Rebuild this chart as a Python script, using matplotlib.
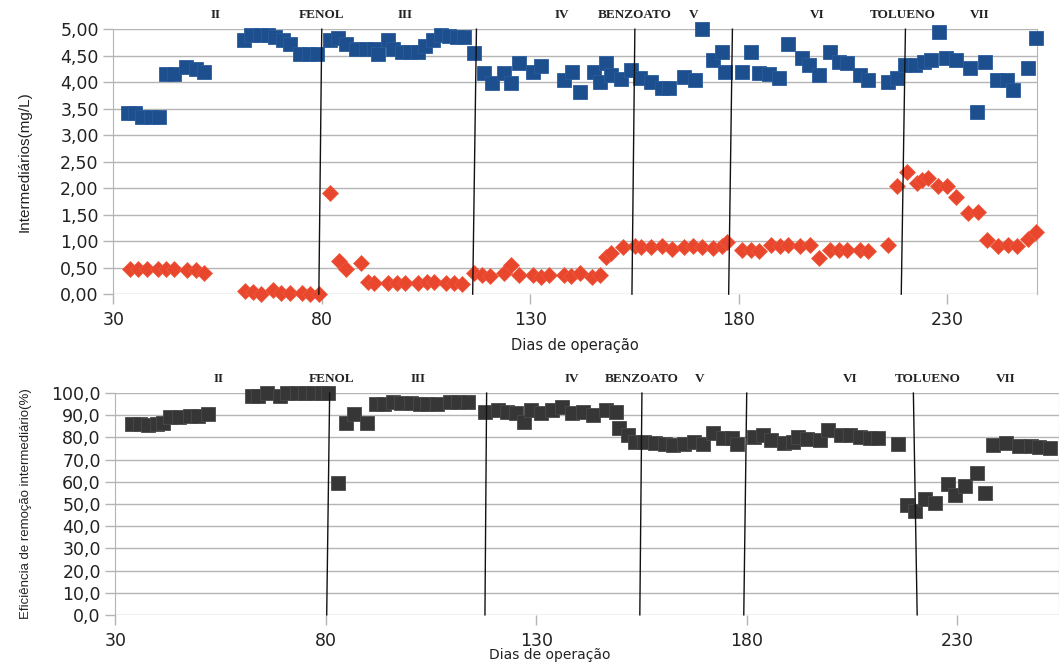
import matplotlib
matplotlib.use("Agg")
import matplotlib.pyplot as plt
from matplotlib.ticker import FuncFormatter

# Top chart: intermediates (mg/L)
blue_days = [33.5, 35.2, 37.0, 39.0, 41.0, 42.7, 44.6, 47.4, 49.8, 51.7,
             61.4, 63.0, 65.2, 67.0, 68.7, 70.6, 72.5, 74.8, 77.0, 78.8,
             81.9, 84.0, 85.9, 88.3, 90.6, 92.5, 93.4, 95.8, 97.2, 99.3,
             101.2, 103.0, 104.8, 106.7, 108.7, 110.6, 112.5, 114.0,
             116.6, 118.9, 120.8, 123.6, 125.5, 127.3, 130.7, 132.6, 138.0, 140.0,
             141.9, 145.3, 146.8, 148.1, 149.3, 151.7, 154.1, 156.3, 158.9, 161.5,
             163.4, 167.0, 169.5, 171.2, 173.9, 176.0, 176.8, 180.9, 182.9, 184.8,
             187.3, 189.7, 191.9, 195.1, 196.8, 199.3, 202.0, 204.1, 206.1, 209.0,
             211.0, 215.9, 217.9, 220.0, 222.4, 224.4, 226.1, 228.0, 229.8, 232.2,
             235.4, 237.1, 239.0, 242.0, 244.4, 245.9, 249.3, 251.2]
blue_vals = [3.42, 3.41, 3.34, 3.34, 3.34, 4.15, 4.15, 4.29, 4.25, 4.20,
             4.79, 4.89, 4.89, 4.89, 4.86, 4.79, 4.72, 4.53, 4.53, 4.53,
             4.79, 4.83, 4.72, 4.63, 4.63, 4.62, 4.53, 4.79, 4.63, 4.57,
             4.57, 4.57, 4.69, 4.79, 4.90, 4.88, 4.86, 4.86,
             4.55, 4.17, 3.98, 4.17, 3.98, 4.36, 4.19, 4.30, 4.04, 4.19,
             3.81, 4.19, 4.00, 4.36, 4.13, 4.06, 4.23, 4.08, 4.00, 3.89,
             3.89, 4.09, 4.04, 5.00, 4.42, 4.57, 4.19, 4.19, 4.57, 4.17,
             4.15, 4.08, 4.73, 4.45, 4.32, 4.13, 4.57, 4.38, 4.36, 4.13,
             4.04, 4.00, 4.08, 4.32, 4.32, 4.38, 4.42, 4.94, 4.45, 4.42,
             4.26, 3.44, 4.38, 4.04, 4.04, 3.85, 4.26, 4.83]

red_days = [34.0, 35.9, 38.0, 40.6, 42.7, 44.6, 47.7, 49.8, 51.7,
            61.6, 63.5, 65.4, 68.2, 70.2, 72.5, 75.3, 77.2, 79.3,
            81.9, 84.2, 85.9, 89.4, 91.1, 92.5, 96.0, 98.1, 100.0, 103.0,
            105.2, 107.0, 109.8, 111.7, 113.6,
            116.6, 118.5, 120.4, 123.6, 125.5, 127.4, 130.7, 132.6, 134.5, 138.0,
            139.9, 141.9, 144.9, 146.8, 148.1, 149.3, 152.2, 155.1, 156.6, 159.0,
            161.7, 163.9, 167.0, 169.0, 171.2, 173.9, 176.1, 177.3, 180.9, 182.9,
            184.9, 187.8, 189.8, 191.9, 194.6, 197.0, 199.3, 201.8, 204.1, 206.1,
            209.0, 211.0, 215.9, 217.9, 220.4, 222.8, 224.0, 225.3, 227.7, 230.0,
            232.2, 235.0, 237.3, 239.5, 242.2, 244.6, 246.8, 249.3, 251.2]
red_vals = [0.47, 0.47, 0.47, 0.47, 0.47, 0.47, 0.46, 0.46, 0.40,
            0.06, 0.05, 0.00, 0.08, 0.02, 0.02, 0.02, 0.00, 0.00,
            1.91, 0.63, 0.48, 0.59, 0.23, 0.21, 0.21, 0.21, 0.21, 0.21,
            0.22, 0.23, 0.21, 0.21, 0.20,
            0.40, 0.36, 0.34, 0.40, 0.55, 0.36, 0.36, 0.33, 0.36, 0.36,
            0.34, 0.40, 0.33, 0.36, 0.70, 0.77, 0.89, 0.91, 0.89, 0.89,
            0.90, 0.86, 0.89, 0.90, 0.89, 0.88, 0.90, 0.98, 0.83, 0.83,
            0.82, 0.92, 0.90, 0.92, 0.90, 0.92, 0.68, 0.83, 0.83, 0.83,
            0.83, 0.82, 0.92, 2.04, 2.30, 2.09, 2.15, 2.19, 2.04, 2.04,
            1.83, 1.53, 1.55, 1.02, 0.91, 0.92, 0.90, 1.04, 1.17]

# Bottom chart: removal efficiency (%)
eff_days = [34.0, 35.9, 37.8, 39.9, 41.4, 43.0, 45.0, 47.8, 49.7, 52.0,
            62.5, 63.9, 66.0, 69.1, 70.8, 73.1, 75.0, 76.9, 79.0, 80.4,
            82.8, 84.9, 86.7, 89.7, 91.9, 93.7, 96.0, 97.9, 100.2, 102.3,
            104.1, 106.4, 109.4, 111.5, 113.8,
            117.8, 120.8, 123.1, 125.2, 127.0, 128.8, 131.2, 133.7, 136.2, 138.6,
            141.1, 143.5, 146.5, 148.9, 149.6, 151.9, 153.5, 155.6, 158.1, 160.5,
            162.5, 165.0, 167.5, 169.5, 171.9, 174.4, 176.6, 177.8, 181.7, 183.8,
            185.7, 188.8, 190.9, 192.3, 194.4, 197.5, 199.4, 202.3, 204.6, 207.0,
            209.4, 211.2, 216.0, 218.1, 220.0, 222.4, 224.8, 227.9, 229.5, 231.8,
            234.6, 236.5, 238.4, 241.7, 244.8, 247.6, 249.5, 252.0]
eff_vals = [86.0, 86.0, 85.6, 86.0, 86.3, 89.2, 89.2, 89.5, 89.5, 90.5,
            98.6, 98.6, 100.0, 98.6, 100.0, 100.0, 100.0, 100.0, 100.0, 100.0,
            59.5, 86.5, 90.5, 86.5, 95.0, 95.0, 96.0, 95.5, 95.5, 95.3,
            95.0, 95.3, 96.0, 96.0, 96.0,
            91.4, 92.3, 91.4, 91.0, 86.9, 92.3, 91.0, 92.3, 93.7, 91.0,
            91.4, 90.0, 92.3, 91.4, 84.2, 81.1, 78.0, 77.9, 77.5, 77.1,
            76.6, 77.1, 77.9, 77.1, 82.0, 79.7, 79.9, 77.0, 80.2, 81.1,
            78.8, 77.5, 77.9, 80.0, 79.4, 78.8, 83.3, 81.0, 81.0, 80.4,
            79.6, 79.6, 77.0, 49.5, 46.8, 52.2, 50.5, 59.0, 54.0, 58.0,
            64.0, 55.0, 76.6, 77.5, 76.1, 76.0, 75.5, 75.3]

# Phase boundaries (day at top of plot, day at bottom of plot)
top_bounds = [(80.0, 79.3), (117.1, 116.2), (155.1, 154.4), (178.5, 177.6), (220.0, 219.0)]
bot_bounds = [(80.9, 80.2), (118.2, 117.8), (155.1, 154.6), (180.0, 179.3), (219.6, 220.5)]

phase_names = ["II", "FENOL", "III", "IV", "BENZOATO", "V", "VI", "TOLUENO", "VII"]
top_name_days = [54.5, 80.0, 100.0, 137.6, 155.0, 169.3, 198.8, 219.3, 237.8]
bot_name_days = [54.4, 81.4, 101.9, 138.4, 155.1, 168.9, 204.6, 223.1, 241.6]

xticks = [30, 80, 130, 180, 230]

fig = plt.figure(figsize=(10.59, 6.64), dpi=100)
ax1 = fig.add_axes([0.107, 0.557, 0.872, 0.399])
ax2 = fig.add_axes([0.109, 0.074, 0.891, 0.334])

grid_col = "#b5b5b5"


def style_axis(ax, ylim, yticks, fmt, xlim):
    ax.set_xlim(*xlim)
    ax.set_ylim(*ylim)
    ax.set_xticks(xticks)
    ax.set_yticks(yticks)
    ax.yaxis.set_major_formatter(FuncFormatter(fmt))
    ax.grid(axis="y", color=grid_col, linewidth=1.0)
    ax.set_axisbelow(True)
    for s in ["top", "bottom"]:
        ax.spines[s].set_visible(False)
    ax.spines["left"].set_color(grid_col)
    ax.spines["right"].set_color(grid_col)
    ax.tick_params(axis="both", colors=grid_col, labelcolor="#222222",
                   labelsize=12.5, length=7, width=1)
    ax.tick_params(axis="x", pad=5)


style_axis(ax1, (0, 5.0), [i * 0.5 for i in range(11)],
           lambda v, p: f"{v:.2f}".replace(".", ","), (30, 251.5))
style_axis(ax2, (0, 100), list(range(0, 101, 10)),
           lambda v, p: f"{v:.1f}".replace(".", ","), (30, 254.2))

ax1.plot(blue_days, blue_vals, linestyle="none", marker="s", markersize=10.5,
         color="#1d4f8f", markeredgecolor="#2a5c9c", markeredgewidth=0.6,
         zorder=3, clip_on=False)
ax1.plot(red_days, red_vals, linestyle="none", marker="D", markersize=7.8,
         color="#e8472d", markeredgecolor="#ef5a3f", markeredgewidth=0.5,
         zorder=3, clip_on=False)
ax2.plot(eff_days, eff_vals, linestyle="none", marker="s", markersize=10.5,
         color="#363636", markeredgecolor="#4a4a4a", markeredgewidth=0.6,
         zorder=3, clip_on=False)

for ax, bounds, (y0, y1) in [(ax1, top_bounds, (0, 5.0)), (ax2, bot_bounds, (0, 100))]:
    for xt, xb in bounds:
        ax.plot([xt, xb], [y1, y0], color="#111111", linewidth=1.0, zorder=4,
                clip_on=False)

for ax, days, ylab in [(ax1, top_name_days, 1.053), (ax2, bot_name_days, 1.063)]:
    for name, d in zip(phase_names, days):
        ax.text(d, ylab, name, transform=ax.get_xaxis_transform(), ha="center",
                va="center", fontsize=9.5, fontweight="bold",
                family=["Liberation Serif", "DejaVu Serif"], color="#222222")

label_font = ["Liberation Sans Narrow", "Liberation Sans", "DejaVu Sans"]
ax1.set_ylabel("Intermediários(mg/L)", fontsize=11, family=label_font, color="#222222")
ax1.yaxis.set_label_coords(-0.088, 0.5)
ax2.set_ylabel("Eficiência de remoção intermediário(%)", fontsize=9.5, family=label_font,
               color="#222222")
ax2.yaxis.set_label_coords(-0.088, 0.5)

ax1.set_xlabel("Dias de operação", fontsize=10.5, color="#222222")
ax1.xaxis.set_label_coords(0.5, -0.165)
ax2.set_xlabel("Dias de operação", fontsize=10, color="#222222")
ax2.xaxis.set_label_coords(0.46, -0.15)

fig.savefig("out.png", dpi=100)
